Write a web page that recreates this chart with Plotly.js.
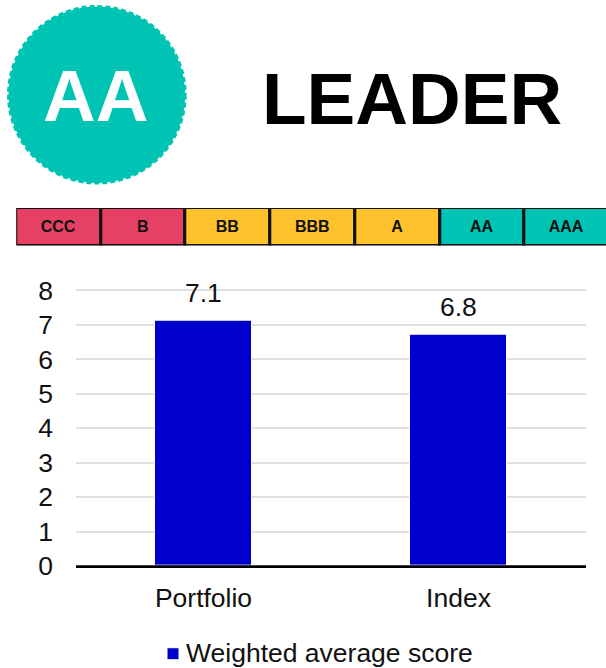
<!DOCTYPE html>
<html><head><meta charset="utf-8">
<script src="https://cdn.plot.ly/plotly-3.0.1.min.js"></script>
<style>html,body{margin:0;padding:0;background:#fff;overflow:hidden}</style>
</head><body><div id="chart" style="width:606px;height:668px"></div>
<script>
const categories = ['Portfolio', 'Index'];
const scores = [7.12, 6.72];
const scoreLabels = ['7.1', '6.8'];
const seriesName = 'Weighted average score';
const ratings = ['CCC', 'B', 'BB', 'BBB', 'A', 'AA', 'AAA'];
const ratingColors = ['#E64164', '#E64164', '#FFC22D', '#FFC22D', '#FFC22D', '#00C4B3', '#00C4B3'];
const badgeText = 'AA';
const headline = 'LEADER';

const W = 606, H = 668;
const fx = p => p / W, fy = p => 1 - p / H;
const FONT = '"Liberation Sans", Arial, sans-serif';
const AX = 26.5;

const traces = [
  { type: 'bar', name: seriesName, x: categories, y: scores, width: 0.384,
    marker: { color: '#0000CD', line: { color: '#ffffff', width: 1 } },
    hoverinfo: 'x+y', showlegend: true },
  { type: 'bar', xaxis: 'x2', yaxis: 'y2', orientation: 'v', showlegend: false,
    x: ratings.map((_, i) => i + 0.5), y: ratings.map(() => 1), width: 1,
    marker: { color: ratingColors, line: { color: '#111111', width: 3 } },
    text: ratings, textposition: 'inside', insidetextanchor: 'middle', textangle: 0,
    constraintext: 'none', cliponaxis: false,
    textfont: { family: FONT, size: 16, color: '#111111', weight: 'bold' },
    hoverinfo: 'text' }
];

const layout = {
  width: W, height: H, margin: { l: 0, r: 0, t: 0, b: 0, autoexpand: false },
  paper_bgcolor: '#fff', plot_bgcolor: '#fff', font: { family: FONT, color: '#111' },
  bargap: 0, showlegend: true,
  xaxis: { domain: [fx(76), fx(586)], anchor: 'y', type: 'category', showline: true, linecolor: '#000', linewidth: 2,
    ticks: '', tickfont: { size: AX, color: '#111' }, ticklabelstandoff: 7, showgrid: false, fixedrange: true, automargin: false },
  yaxis: { domain: [fy(566), fy(566 - 8.05 * 34.45)], anchor: 'x', range: [0, 8.05], tickvals: [0, 1, 2, 3, 4, 5, 6, 7, 8], showgrid: true, gridcolor: '#E0E0E0', gridwidth: 1.5,
    zeroline: false, showline: false, ticks: '', tickfont: { size: AX, color: '#111' }, ticklabelstandoff: 22, fixedrange: true, automargin: false },
  xaxis2: { domain: [fx(16.3), 1], anchor: 'y2', range: [0, 589.7 / 84.7], visible: false, fixedrange: true },
  yaxis2: { domain: [fy(245.5), fy(208)], anchor: 'x2', range: [0, 1], visible: false, fixedrange: true },
  legend: { orientation: 'h', x: fx(146), xanchor: 'left', y: fy(652), yanchor: 'middle', font: { size: AX, color: '#111' }, itemclick: false, itemdoubleclick: false },
  shapes: [
    { type: 'circle', xref: 'paper', yref: 'paper', x0: fx(8.5), x1: fx(185.2), y0: fy(183), y1: fy(6.5),
      fillcolor: '#00C4B3', line: { color: '#00C4B3', width: 3, dash: '5px,3px' } },
    { type: 'line', xref: 'x domain', yref: 'paper', x0: 0, x1: 1, y0: fy(566.5), y1: fy(566.5), layer: 'above',
      line: { color: '#000', width: 2.5 } }
  ],
  annotations: [
    { xref: 'paper', yref: 'paper', x: fx(95.5), y: fy(95), text: '<b>' + badgeText + '</b>', showarrow: false, xanchor: 'center', yanchor: 'middle', font: { size: 73, color: '#fff', family: FONT } },
    { xref: 'paper', yref: 'paper', x: fx(412), y: fy(99), text: '<b>' + headline + '</b>', showarrow: false, xanchor: 'center', yanchor: 'middle', font: { size: 73, color: '#000', family: FONT } }
  ].concat(categories.map((c, i) => ({ xref: 'x', yref: 'y', x: c, y: scores[i], yshift: 27.5, text: scoreLabels[i], showarrow: false,
    xanchor: 'center', yanchor: 'middle', font: { size: AX, color: '#111', family: FONT } })))
};

Plotly.newPlot('chart', traces, layout, { displayModeBar: false, responsive: false }).then(() => {
  const swatch = document.querySelector('#chart .legend .legendpoints');
  if (swatch) swatch.setAttribute('transform', 'translate(7,2)');
});
</script></body></html>
